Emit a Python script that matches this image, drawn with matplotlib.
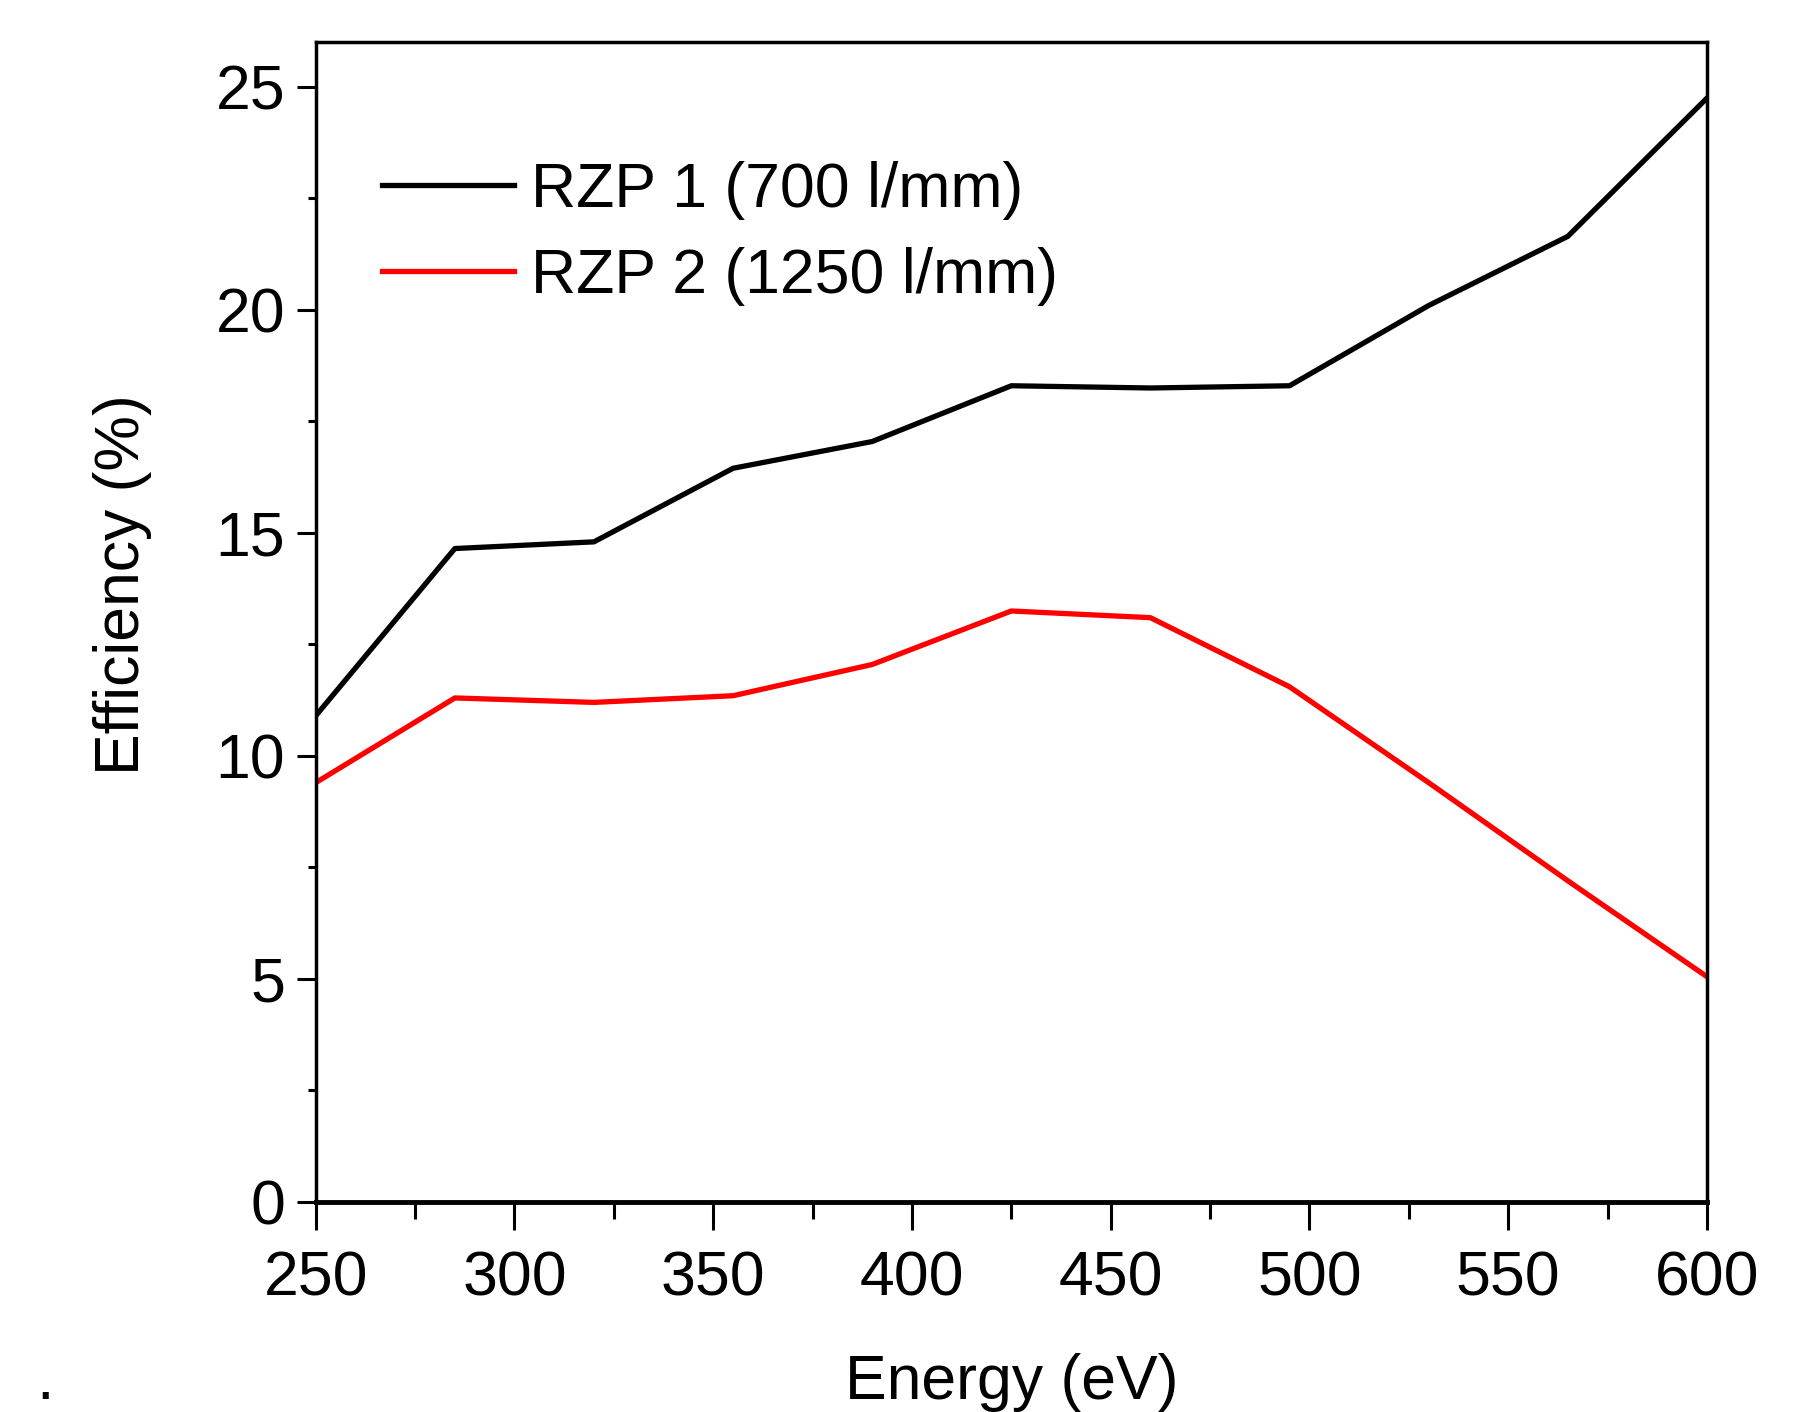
import numpy as np
import matplotlib
matplotlib.use("Agg")
import matplotlib.pyplot as plt
from matplotlib.ticker import MultipleLocator

# grating efficiency vs photon energy
energy = [250, 285, 320, 355, 390, 425, 460, 495, 530, 565, 600]
eff_rzp1 = [10.9, 14.65, 14.8, 16.45, 17.05, 18.3, 18.25, 18.3, 20.1, 21.65, 24.75]
eff_rzp2 = [9.4, 11.3, 11.2, 11.35, 12.05, 13.25, 13.1, 11.55, 9.4, 7.2, 5.05]
labels = ["RZP 1 (700 l/mm)", "RZP 2 (1250 l/mm)"]

plt.rcParams["font.family"] = ["Liberation Sans", "DejaVu Sans"]

FS = 45

fig = plt.figure(figsize=(18, 14.12), dpi=100)
ax = fig.add_axes([0.1754, 0.1488, 0.7729, 0.8212])

ax.plot(energy, eff_rzp1, color="black", lw=3.8, label=labels[0])
ax.plot(energy, eff_rzp2, color="#ff0000", lw=3.8, label=labels[1])

ax.set_xlim(250, 600)
ax.set_ylim(0, 26)
ax.xaxis.set_major_locator(MultipleLocator(50))
ax.xaxis.set_minor_locator(MultipleLocator(25))
ax.yaxis.set_major_locator(MultipleLocator(5))
ax.yaxis.set_minor_locator(MultipleLocator(2.5))

ax.tick_params(axis="x", which="major", direction="out", length=20, width=2.2,
               labelsize=FS, pad=14)
ax.tick_params(axis="x", which="minor", direction="out", length=12, width=2.2)
ax.tick_params(axis="y", which="major", direction="out", length=14, width=2.2,
               labelsize=FS, pad=8)
ax.tick_params(axis="y", which="minor", direction="out", length=6, width=2.2)
ax.tick_params(top=False, right=False, which="both")

for s in ax.spines.values():
    s.set_linewidth(2.5)
ax.spines["bottom"].set_linewidth(3.5)

ax.set_xlabel("Energy (eV)", fontsize=FS, labelpad=32)
ax.set_ylabel("Efficiency (%)", fontsize=FS)
ax.yaxis.set_label_coords(-0.118, 0.532)

ax.legend(loc="upper left", bbox_to_anchor=(0.048, 0.898), frameon=False,
          fontsize=FS, handlelength=2.1, handletextpad=0.28, labelspacing=0.43,
          borderpad=0, borderaxespad=0)

fig.text(0.02, 0.0, ".", fontsize=FS, ha="left", va="bottom")

fig.savefig("out.png", dpi=100)
